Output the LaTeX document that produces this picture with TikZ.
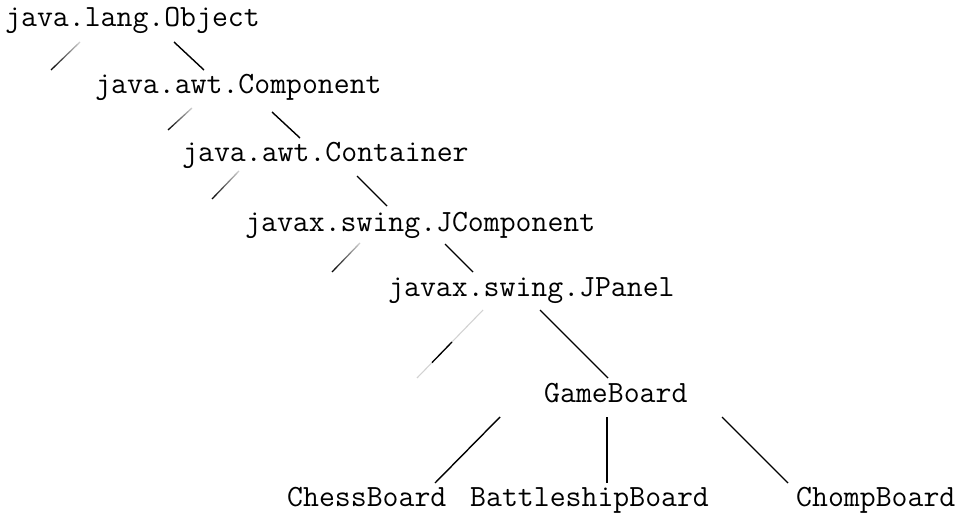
\documentclass[tikz,border=0pt]{standalone}
\usetikzlibrary{fadings}

\tikzfading[name=fade ne, left color=transparent!0, middle color=transparent!0, right color=transparent!85]

\tikzset{
  cls/.style={anchor=base west, inner sep=0pt, font=\fontsize{30.9}{34}\selectfont\ttfamily},
  edge/.style={line width=1.4pt, black},
  faint/.style={line width=1.3pt, black, path fading=fade ne}
}

\begin{document}
\begin{tikzpicture}[x=1pt, y=-1pt]
    \useasboundingbox (0,0) rectangle (960,513);

    % Classes
    \node[cls] (obj) at (5, 27) {java.lang.Object};
    \node[cls] (comp) at (95, 94) {java.awt.Component};
    \node[cls] (cont) at (182, 161) {java.awt.Container};
    \node[cls] (jcomp) at (245, 231) {javax.swing.JComponent};
    \node[cls] (jpanel) at (388, 296) {javax.swing.JPanel};
    \node[cls] (game) at (544, 402) {GameBoard};
    \node[cls] (chess) at (287, 506) {ChessBoard};
    \node[cls] (battle) at (470, 506) {BattleshipBoard};
    \node[cls] (chomp) at (796, 506) {ChompBoard};

    % Subclass links
    \draw[edge] ([shift={(169,15)}]obj.base west) -- ([shift={(109,-24)}]comp.base west);
    \draw[edge] ([shift={(177,18)}]comp.base west) -- ([shift={(118,-23)}]cont.base west);
    \draw[edge] ([shift={(175,15)}]cont.base west) -- ([shift={(142,-25)}]jcomp.base west);
    \draw[edge] ([shift={(200,13)}]jcomp.base west) -- ([shift={(85,-24)}]jpanel.base west);
    \draw[edge] ([shift={(152,14)}]jpanel.base west) -- ([shift={(64,-24)}]game.base west);
    \draw[edge] ([shift={(-44,15)}]game.base west) -- ([shift={(148,-23)}]chess.base west);
    \draw[edge] ([shift={(63,15)}]game.base west) -- ([shift={(137,-23)}]battle.base west);
    \draw[edge] ([shift={(178,15)}]game.base west) -- ([shift={(-8,-23)}]chomp.base west);

    % Other subclasses (faded)
    \draw[faint] ([shift={(75,15)}]obj.base west) -- ++(-29,28);
    \draw[faint] ([shift={(97,14)}]comp.base west) -- ++(-24,22);
    \draw[faint] ([shift={(57,10)}]cont.base west) -- ++(-27,28);
    \draw[faint] ([shift={(115,12)}]jcomp.base west) -- ++(-28,29);
    \draw[line width=1.1pt, gray!35] ([shift={(95,14)}]jpanel.base west) -- ++(-66,68);
    \draw[line width=1.3pt] ([shift={(64,46)}]jpanel.base west) -- ++(-20,20.6);
\end{tikzpicture}
\end{document}
